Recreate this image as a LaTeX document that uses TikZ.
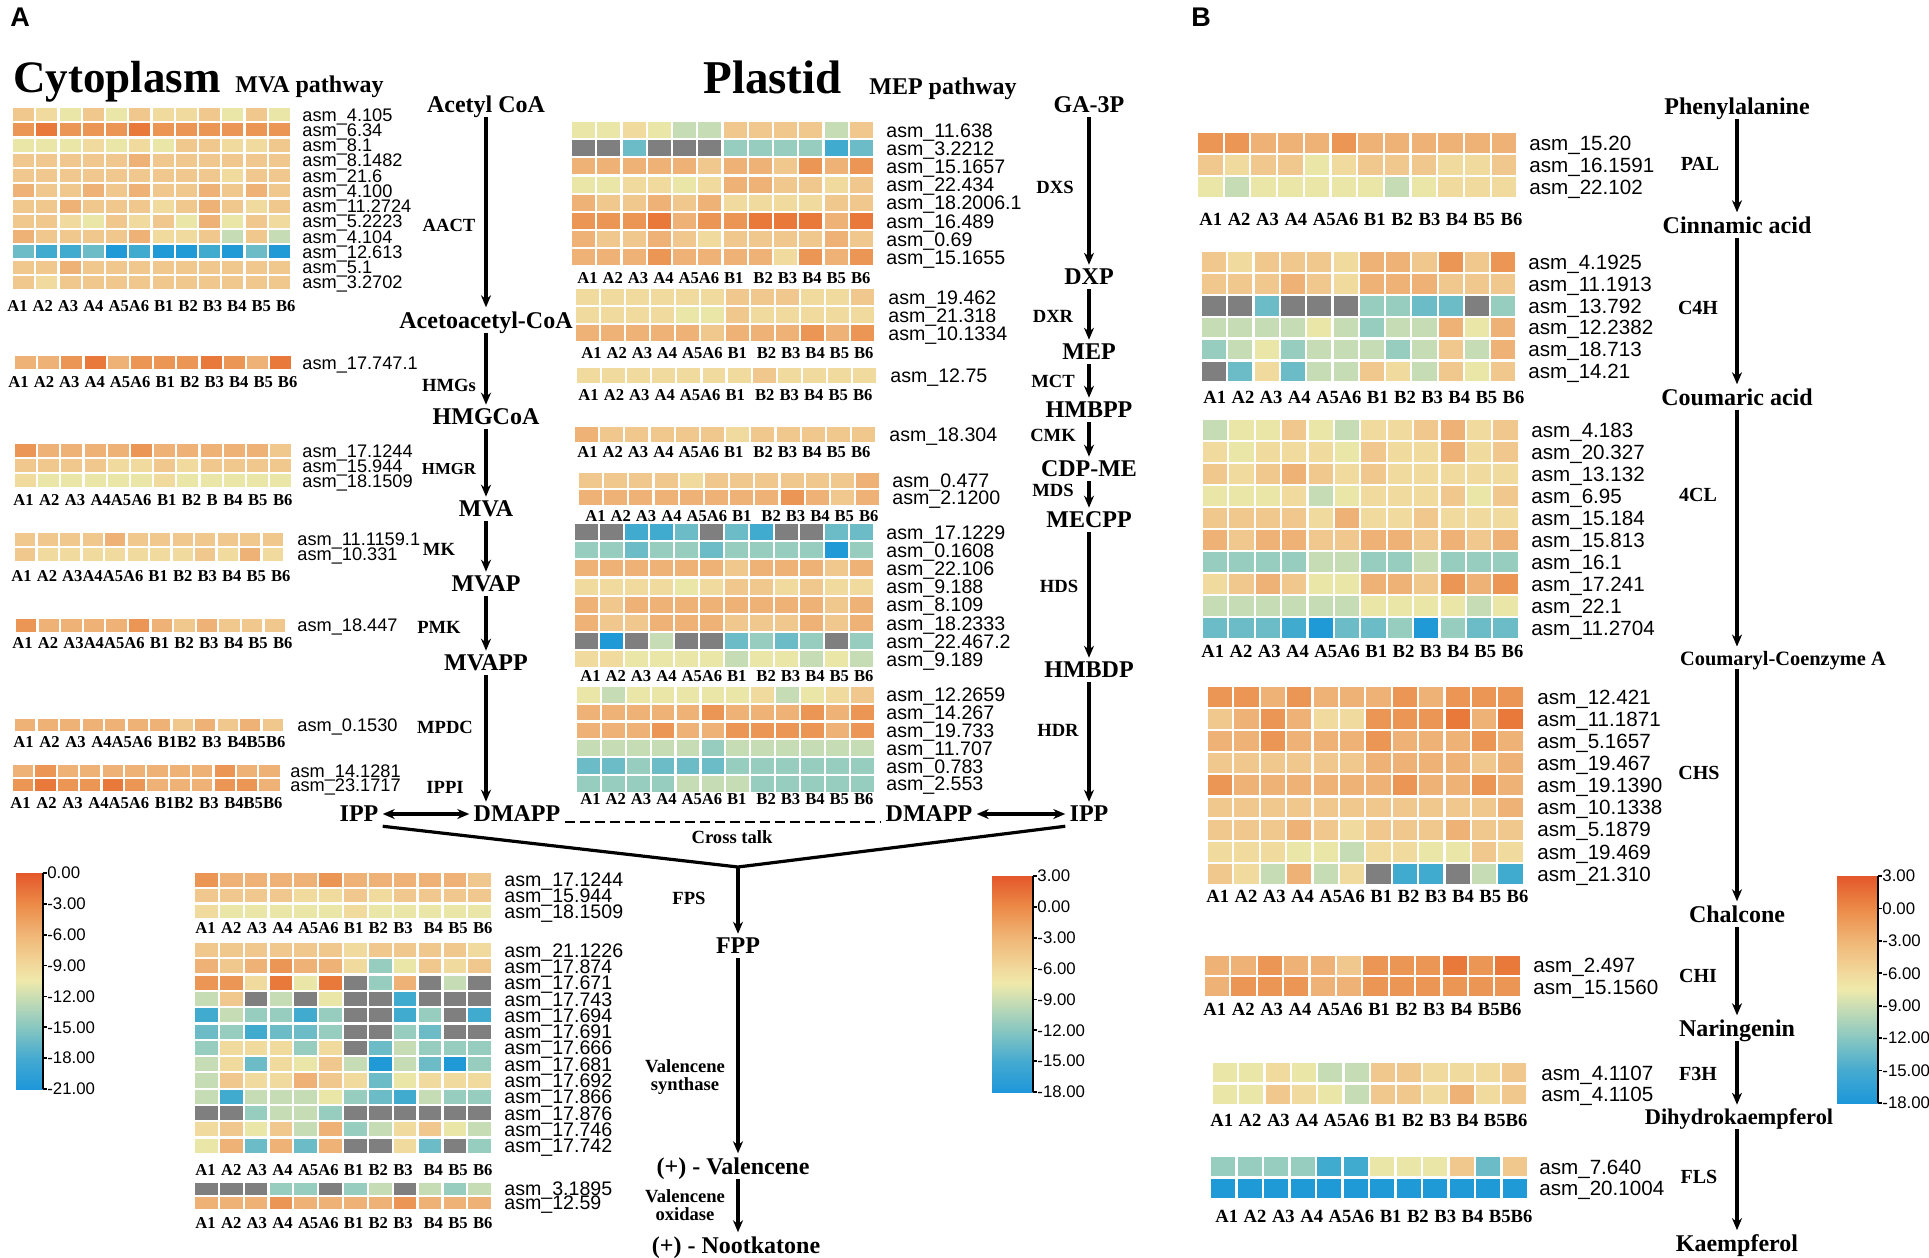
\documentclass[tikz,border=0pt]{standalone}
\usepackage{fontspec}
\setmainfont{Liberation Serif}
\newfontfamily\arial{Liberation Sans}
\usetikzlibrary{arrows.meta,positioning}

\definecolor{hm0}{HTML}{1F9AD7}
\definecolor{hm1}{HTML}{41AACF}
\definecolor{hm2}{HTML}{6BBCC6}
\definecolor{hm3}{HTML}{97CDBF}
\definecolor{hm4}{HTML}{C5DCB4}
\definecolor{hm5}{HTML}{EAE6A8}
\definecolor{hm6}{HTML}{F1DA9D}
\definecolor{hm7}{HTML}{F0C78D}
\definecolor{hm8}{HTML}{EEB176}
\definecolor{hm9}{HTML}{EB9654}
\definecolor{hma}{HTML}{E8793A}
\definecolor{hmb}{HTML}{E4602A}
\definecolor{hmg}{HTML}{7F7F7F}
\definecolor{cbl0}{HTML}{E4572A}
\definecolor{cbl1}{HTML}{EC8A48}
\definecolor{cbl2}{HTML}{F0B676}
\definecolor{cbl3}{HTML}{F1D99C}
\definecolor{cbl4}{HTML}{EEE9AB}
\definecolor{cbl5}{HTML}{CCDEB3}
\definecolor{cbl6}{HTML}{88C7C1}
\definecolor{cbl7}{HTML}{45AAD0}
\definecolor{cbl8}{HTML}{1D97DA}

\pgfdeclareverticalshading{cbar}{100bp}{color(0bp)=(cbl8); color(25bp)=(cbl8);
  color(32.14bp)=(cbl7); color(39.29bp)=(cbl6); color(46.43bp)=(cbl5);
  color(50bp)=(cbl4); color(53.57bp)=(cbl3); color(60.71bp)=(cbl2);
  color(67.86bp)=(cbl1); color(75bp)=(cbl0); color(100bp)=(cbl0)}

\tikzset{
  gene/.style={anchor=base west, inner sep=0pt},
  cols/.style={anchor=west, inner sep=0pt},
  met/.style={font=\bfseries\fontsize{12}{12}\selectfont, inner sep=2pt, text depth=0pt},
  enz/.style={font=\bfseries\fontsize{9.3}{9.3}\selectfont, inner sep=1pt, align=center},
  enzb/.style={font=\bfseries\fontsize{10}{10}\selectfont, inner sep=1pt},
  barlab/.style={font=\arial\fontsize{8.4}{8.4}\selectfont, anchor=west, inner sep=0pt},
  flow/.style={line width=1.6pt, -{Stealth[length=6pt,width=5pt]}},
  dflow/.style={line width=1.6pt, {Stealth[length=6pt,width=5pt]}-{Stealth[length=6pt,width=5pt]}},
  link/.style={line width=1.6pt, line join=round},
  xdash/.style={line width=1.3pt, dash pattern=on 5pt off 2.5pt},
}

% x, y, cell width, cell height, rows of colour codes
\newcommand\heatmap[5]{%
  \foreach \hrow [count=\ri] in {#5}{%
    \foreach \hcell [count=\ci] in \hrow{%
      \fill[fill=hm\hcell] ({#1+(\ci-1)*#3},{#2+(\ri-1)*#4}) rectangle ++({#3-2.2},{#4-2.2});
    }%
  }%
}
% name, x, y, row pitch, font size, gene ids
\newcommand\genes[6]{%
  \foreach \gid [count=\gk] in {#6}{%
    \node[gene, font=\arial\fontsize{#5}{#5}\selectfont] (#1-\gk)
      at ({#2},{#3+(\gk-0.5)*#4-1.1+0.72*#5}) {asm\_\gid};
  }%
}
% name, x, y, width, font size, text
\newcommand\samples[6]{%
  \node[cols, font=\bfseries\fontsize{#5}{#5}\selectfont] (#1) at (#2,#3)
    {\makebox[\dimexpr #4pt/2\relax][s]{#6}};
}
% name, x1, y1, x2, y2, labels
\newcommand\legendbar[6]{%
  \shade[shading=cbar] (#2,#3) rectangle (#4,#5);
  \draw[line width=0.8pt] (#4,#3) -- (#4,#5);
  \foreach \cv [count=\ck from 0] in {#6}{%
    \draw[line width=0.8pt] (#4,{#3+\ck*(#5-#3)/7}) -- ++(4,0);
    \node[barlab] (#1-\ck) at ({#4+4},{#3+\ck*(#5-#3)/7}) {\cv};
  }%
}

\begin{document}
\begin{tikzpicture}[x=0.5pt,y=-0.5pt]
\useasboundingbox (0,0) rectangle (1929,1258);
\fill[white] (0,0) rectangle (1929,1258);

\node[font=\arial\bfseries\fontsize{13.5}{13.5}\selectfont] (panA) at (20,17) {A};
\node[font=\arial\bfseries\fontsize{13.5}{13.5}\selectfont] (panB) at (1201,17) {B};
\node[anchor=base west, inner sep=0pt, font=\bfseries\fontsize{22.5}{22.5}\selectfont] (cyto) at (13,92) {Cytoplasm};
\node[anchor=base west, inner sep=0pt, font=\bfseries\fontsize{12}{12}\selectfont] (mvatitle) at (235,92) {MVA pathway};
\node[anchor=base west, inner sep=0pt, font=\bfseries\fontsize{23.5}{23.5}\selectfont] (plastid) at (703,93) {Plastid};
\node[anchor=base west, inner sep=0pt, font=\bfseries\fontsize{12}{12}\selectfont] (meptitle) at (869,94) {MEP pathway};

% MVA heatmaps
\heatmap{13}{108}{23.25}{15.25}{{7,6,5,7,5,7,6,6,7,5,7,5},{9,a,9,9,9,a,9,9,9,9,9,9},
  {5,5,5,6,5,6,5,7,7,6,6,7},{7,7,7,7,7,8,7,7,7,7,7,7},{7,7,7,7,7,7,7,7,7,6,7,7},
  {8,7,7,8,7,8,7,7,8,7,8,7},{7,7,8,7,7,7,6,7,8,7,6,7},{7,7,6,5,7,6,7,5,8,5,7,6},
  {8,7,7,7,7,8,6,6,7,4,7,4},{2,1,1,2,0,1,0,0,1,0,2,0},{7,7,8,7,7,7,7,7,7,7,7,7},
  {7,6,7,7,7,7,7,7,7,7,7,7}}
\genes{gaact}{302}{108}{15.25}{9.1}{4.105,6.34,8.1,8.1482,21.6,4.100,11.2724,5.2223,4.104,12.613,5.1,3.2702}
\samples{gaact-s}{7}{306}{288}{8.3}{A1 A2 A3 A4 A5A6 B1 B2 B3 B4 B5 B6}

\heatmap{15}{356}{23.2}{15.5}{{8,8,9,a,8,9,9,9,a,9,8,a}}
\genes{ghmgs}{302}{356}{15.5}{9.1}{17.747.1}
\samples{ghmgs-s}{8}{382}{289}{8.3}{A1 A2 A3 A4 A5A6 B1 B2 B3 B4 B5 B6}

\heatmap{15}{444}{23.2}{15.2}{{9,8,8,8,8,9,8,8,8,8,8,7},{7,7,7,7,6,6,7,6,7,7,7,7},{6,5,5,5,5,5,6,5,5,5,5,5}}
\genes{ghmgr}{302}{444}{15.2}{9.1}{17.1244,15.944,18.1509}
\samples{ghmgr-s}{13}{500}{279}{8.3}{A1 A2 A3 A4A5A6 B1 B2 B B4 B5 B6}

\heatmap{15}{533}{22.5}{15}{{7,7,7,7,8,7,7,7,7,7,7,7},{7,6,6,6,6,6,6,6,7,6,8,6}}
\genes{gmk}{297}{533}{15}{9.1}{11.1159.1,10.331}
\samples{gmk-s}{11}{576}{279}{8.3}{A1 A2 A3A4A5A6 B1 B2 B3 B4 B5 B6}

\heatmap{16}{619}{22.6}{15}{{9,8,8,8,8,9,8,7,8,7,7,7}}
\genes{gpmk}{297}{619}{15}{9.1}{18.447}
\samples{gpmk-s}{12}{643}{280}{8.3}{A1 A2 A3A4A5A6 B1 B2 B3 B4 B5 B6}

\heatmap{15}{719}{22.5}{14}{{8,8,8,8,8,8,8,7,8,7,8,7}}
\genes{gmpdc}{297}{719}{14}{9.1}{0.1530}
\samples{gmpdc-s}{13}{742}{272}{8.3}{A1 A2 A3 A4A5A6 B1B2 B3 B4B5B6}

\heatmap{13}{765}{22.4}{14.3}{{8,9,8,8,8,8,8,8,8,9,8,8},{9,a,9,9,a,9,8,8,8,9,9,8}}
\genes{gippi}{290}{765}{14.3}{9.1}{14.1281,23.1717}
\samples{gippi-s}{10}{803}{272}{8.3}{A1 A2 A3 A4A5A6 B1B2 B3 B4B5B6}

% MEP heatmaps
\heatmap{572}{122}{25.25}{18.2}{{5,5,6,5,4,4,7,7,7,7,4,7},{g,g,2,g,g,g,3,3,3,3,1,2},
  {8,8,8,8,8,7,8,8,7,9,8,9},{5,5,6,6,5,6,8,8,7,7,6,7},{8,7,7,8,7,8,6,6,6,6,7,7},
  {9,9,9,a,8,9,9,a,a,a,8,a},{8,7,7,8,7,6,7,7,7,7,8,7},{8,8,8,9,8,8,8,8,6,9,8,9}}
\genes{gdxs}{886}{122}{18.2}{9.8}{11.638,3.2212,15.1657,22.434,18.2006.1,16.489,0.69,15.1655}
\samples{gdxs-s}{577}{278}{293}{8.3}{A1 A2 A3 A4 A5A6 B1~ B2 B3 B4 B5 B6}

\heatmap{576}{289}{25}{18.2}{{6,6,6,6,6,6,7,7,7,6,6,7},{6,6,6,6,5,5,7,6,6,6,6,6},{8,8,8,8,8,7,8,8,8,9,8,9}}
\genes{gdxr}{888}{289}{18.2}{9.8}{19.462,21.318,10.1334}
\samples{gdxr-s}{581}{353}{292}{8.3}{A1 A2 A3 A4 A5A6 B1~ B2 B3 B4 B5 B6}

\heatmap{577}{368}{25.1}{17}{{6,6,6,6,6,6,6,7,6,6,6,6}}
\genes{gmct}{890}{368}{17}{9.8}{12.75}
\samples{gmct-s}{578}{395}{294}{8.3}{A1 A2 A3 A4 A5A6 B1~ B2 B3 B4 B5 B6}

\heatmap{575}{427}{25.2}{17}{{8,7,7,7,7,7,6,7,7,7,7,7}}
\genes{gcmk}{889}{427}{17}{9.8}{18.304}
\samples{gcmk-s}{577}{452}{293}{8.3}{A1 A2 A3 A4 A5A6 B1~ B2 B3 B4 B5 B6}

\heatmap{579}{473}{25.2}{17.3}{{7,7,7,7,6,7,7,7,7,7,7,8},{8,8,8,8,8,8,8,8,9,8,7,8}}
\genes{gmds}{892}{473}{17.3}{9.8}{0.477,2.1200}
\samples{gmds-s}{585}{516}{293}{8.3}{A1 A2 A3 A4 A5A6 B1~ B2 B3 B4 B5 B6}

\heatmap{575}{524}{25}{18.2}{{g,g,1,1,2,g,2,1,g,g,2,2},{3,3,2,3,3,2,3,3,3,3,0,3},
  {8,8,8,8,8,8,7,8,8,8,7,8},{6,6,6,6,5,6,7,7,6,7,6,6},{8,7,8,8,8,8,8,8,8,8,7,8},
  {8,7,7,8,8,8,7,7,7,8,7,8},{g,0,g,4,g,g,2,3,2,3,g,3},{6,6,5,5,5,5,4,5,5,4,5,4}}
\genes{ghds}{886}{524}{18.2}{9.8}{17.1229,0.1608,22.106,9.188,8.109,18.2333,22.467.2,9.189}
\samples{ghds-s}{580}{676}{293}{8.3}{A1 A2 A3 A4 A5A6 B1~ B2 B3 B4 B5 B6}

\heatmap{577}{687}{24.9}{17.8}{{5,4,5,5,5,5,5,6,4,5,6,7},{8,8,8,8,8,9,8,8,8,9,8,9},
  {8,8,8,9,8,8,9,9,9,9,8,9},{4,4,4,4,4,3,4,4,4,4,4,4},{2,2,3,2,2,2,3,3,3,3,3,3},
  {3,3,3,3,4,4,4,3,3,3,3,3}}
\genes{ghdr}{886}{687}{17.8}{9.8}{12.2659,14.267,19.733,11.707,0.783,2.553}
\samples{ghdr-s}{580}{799}{293}{8.3}{A1 A2 A3 A4 A5A6 B1~ B2 B3 B4 B5 B6}

% FPS heatmaps
\heatmap{195}{873}{24.85}{15.8}{{9,8,8,8,8,9,8,8,8,8,8,7},{7,7,7,7,6,6,7,6,7,7,7,7},{6,5,5,5,5,5,6,5,5,5,5,5}}
\genes{gfps}{504}{873}{15.8}{9.8}{17.1244,15.944,18.1509}
\samples{gfps-s}{195}{928}{297}{8.3}{A1 A2 A3 A4 A5A6 B1 B2 B3~ B4 B5 B6}

\heatmap{195}{943}{24.85}{16.3}{{7,7,7,7,7,7,6,7,7,7,7,6},{8,7,8,9,8,8,6,3,5,7,6,7},
  {9,9,6,a,5,a,g,3,8,g,4,g},{4,7,g,4,g,5,g,g,1,g,g,g},{1,4,3,3,1,3,g,g,1,3,g,1},
  {2,3,1,2,2,3,g,g,3,2,g,g},{3,6,6,6,3,6,g,2,4,3,3,3},{4,6,2,6,5,7,4,0,4,2,0,3},
  {4,7,6,6,8,7,6,2,5,6,6,6},{4,1,4,4,4,5,3,2,1,4,3,3},{g,g,3,4,4,3,g,g,g,g,g,g},
  {6,7,5,7,4,8,3,4,6,7,5,4},{5,8,2,8,2,8,g,g,6,2,g,3}}
\genes{gvs}{504}{943}{16.3}{9.8}{21.1226,17.874,17.671,17.743,17.694,17.691,17.666,17.681,17.692,17.866,17.876,17.746,17.742}
\samples{gvs-s}{195}{1170}{297}{8.3}{A1 A2 A3 A4 A5A6 B1 B2 B3~ B4 B5 B6}

\heatmap{195}{1183}{24.85}{14}{{g,g,g,3,3,g,3,4,g,4,3,4},{8,8,8,9,8,8,8,8,9,8,8,8}}
\genes{gvo}{504}{1183}{14}{9.8}{3.1895,12.59}
\samples{gvo-s}{195}{1223}{297}{8.3}{A1 A2 A3 A4 A5A6 B1 B2 B3~ B4 B5 B6}

% flavonoid heatmaps
\heatmap{1198}{133}{26.7}{22}{{9,9,8,8,8,9,8,8,8,8,8,8},{7,6,7,7,5,6,7,7,7,6,6,7},{5,4,5,5,5,5,5,4,5,6,6,6}}
\genes{gpal}{1529}{133}{22}{10.3}{15.20,16.1591,22.102}
\samples{gpal-s}{1199}{219}{323}{9.3}{A1 A2 A3 A4 A5A6 B1 B2 B3 B4 B5 B6}

\heatmap{1202}{252}{26.3}{21.9}{{7,6,7,7,7,6,8,8,7,9,7,9},{7,7,7,8,7,6,8,8,8,7,7,7},
  {g,g,2,g,g,g,3,3,2,2,g,3},{4,4,4,4,5,4,3,4,4,8,5,8},{3,4,5,3,4,4,4,3,4,7,4,8},
  {g,2,6,2,4,4,7,6,4,7,5,7}}
\genes{gc4h}{1528}{252}{21.9}{10.3}{4.1925,11.1913,13.792,12.2382,18.713,14.21}
\samples{gc4h-s}{1203}{397}{321}{9.3}{A1 A2 A3 A4 A5A6 B1 B2 B3 B4 B5 B6}

\heatmap{1203}{420}{26.4}{22}{{4,5,5,7,5,4,6,6,7,8,6,7},{6,5,6,6,6,5,7,6,6,8,6,7},
  {7,6,7,8,7,6,7,6,6,6,6,6},{5,5,5,6,4,5,6,6,6,7,5,7},{7,7,7,7,6,8,6,6,7,6,6,6},
  {8,7,8,8,7,7,8,8,7,8,7,8},{3,3,3,3,4,4,3,3,4,3,3,3},{6,7,8,7,5,5,8,8,7,9,8,9},
  {4,4,4,4,4,4,5,5,5,5,4,5},{2,2,2,1,0,2,2,3,0,3,2,2}}
\genes{gfourcl}{1531}{420}{22}{10.3}{4.183,20.327,13.132,6.95,15.184,15.813,16.1,17.241,22.1,11.2704}
\samples{gfourcl-s}{1201}{651}{322}{9.3}{A1 A2 A3 A4 A5A6 B1 B2 B3 B4 B5 B6}

\heatmap{1208}{687}{26.4}{22.1}{{9,9,8,9,8,8,8,9,8,9,9,9},{7,8,9,8,6,6,9,9,9,a,8,a},
  {8,8,9,8,8,8,9,8,8,8,9,8},{7,7,7,7,7,7,8,8,8,8,7,8},{9,8,8,8,8,8,8,9,8,8,9,8},
  {7,7,7,7,7,7,7,7,7,7,7,8},{7,7,7,8,7,6,7,7,7,8,7,7},{6,6,6,5,5,4,6,6,5,5,7,6},
  {7,6,4,8,4,6,g,1,1,g,4,1}}
\genes{gchs}{1537}{687}{22.1}{10.3}{12.421,11.1871,5.1657,19.467,19.1390,10.1338,5.1879,19.469,21.310}
\samples{gchs-s}{1206}{896}{322}{9.3}{A1 A2 A3 A4 A5A6 B1 B2 B3 B4 B5 B6}

\heatmap{1205}{956}{26.4}{21.3}{{8,8,9,8,8,7,9,9,9,a,9,a},{8,9,9,9,8,8,9,9,9,9,9,9}}
\genes{gchi}{1533}{956}{21.3}{10.3}{2.497,15.1560}
\samples{gchi-s}{1203}{1009}{318}{9.3}{A1 A2 A3 A4 A5A6 B1 B2 B3 B4 B5B6}

\heatmap{1213}{1063}{26.3}{21.6}{{5,5,6,5,4,4,7,7,6,6,6,7},{5,5,7,6,5,4,7,7,6,8,6,7}}
\genes{gf3h}{1541}{1063}{21.6}{10.3}{4.1107,4.1105}
\samples{gf3h-s}{1210}{1120}{317}{9.3}{A1 A2 A3 A4 A5A6 B1 B2 B3 B4 B5B6}

\heatmap{1211}{1157}{26.5}{21.6}{{3,3,3,3,1,1,5,5,5,7,2,7},{0,0,0,0,0,0,0,0,0,0,0,0}}
\genes{gfls}{1539}{1157}{21.6}{10.3}{7.640,20.1004}
\samples{gfls-s}{1215}{1216}{317}{9.3}{A1 A2 A3 A4 A5A6 B1 B2 B3 B4 B5B6}

% colour scales
\legendbar{cba}{16}{873}{43}{1089}{0.00,-3.00,-6.00,-9.00,-12.00,-15.00,-18.00,-21.00}
\legendbar{cbb}{992}{876}{1033}{1092}{3.00,0.00,-3.00,-6.00,-9.00,-12.00,-15.00,-18.00}
\legendbar{cbc}{1837}{876}{1878}{1103}{3.00,0.00,-3.00,-6.00,-9.00,-12.00,-15.00,-18.00}

% MVA pathway
\node[met] (acetyl) at (486,104) {Acetyl CoA};
\node[met] (acetoacetyl) at (486,320) {Acetoacetyl-CoA};
\node[met] (hmgcoa) at (486,417) {HMGCoA};
\node[met] (mva) at (486,509) {MVA};
\node[met] (mvap) at (486,584) {MVAP};
\node[met] (mvapp) at (486,663) {MVAPP};
\node[met] (ippL) at (359,814) {IPP};
\node[met] (dmappL) at (517,814) {DMAPP};
\node[enz] (aact) at (449,225) {AACT};
\node[enz] (hmgs) at (449,385) {HMGs};
\node[enz, font=\bfseries\fontsize{8.4}{8.4}\selectfont] (hmgr) at (449,469) {HMGR};
\node[enz] (mk) at (439,549) {MK};
\node[enz] (pmk) at (439,627) {PMK};
\node[enz] (mpdc) at (445,727) {MPDC};
\node[enz] (ippi) at (445,787) {IPPI};
\draw[flow] (acetyl) -- (acetoacetyl);
\draw[flow] (acetoacetyl) -- (hmgcoa);
\draw[flow] (hmgcoa) -- (mva);
\draw[flow] (mva) -- (mvap);
\draw[flow] (mvap) -- (mvapp);
\draw[flow] (mvapp) -- (mvapp |- dmappL.north);
\draw[dflow] (ippL) -- (dmappL);

% MEP pathway
\node[met] (ga3p) at (1089,105) {GA-3P};
\node[met] (dxp) at (1089,277) {DXP};
\node[met] (mep) at (1089,352) {MEP};
\node[met] (hmbpp) at (1089,410) {HMBPP};
\node[met] (cdpme) at (1089,469) {CDP-ME};
\node[met] (mecpp) at (1089,520) {MECPP};
\node[met] (hmbdp) at (1089,670) {HMBDP};
\node[met] (ippR) at (1089,814) {IPP};
\node[met] (dmappR) at (929,814) {DMAPP};
\node[enz] (dxs) at (1055,187) {DXS};
\node[enz] (dxr) at (1053,316) {DXR};
\node[enz] (mct) at (1053,381) {MCT};
\node[enz] (cmk) at (1053,435) {CMK};
\node[enz] (mds) at (1053,490) {MDS};
\node[enz] (hds) at (1059,586) {HDS};
\node[enz] (hdr) at (1058,730) {HDR};
\draw[flow] (ga3p) -- (dxp);
\draw[flow] (dxp) -- (mep);
\draw[flow] (mep) -- (hmbpp);
\draw[flow] (hmbpp) -- (cdpme);
\draw[flow] (cdpme) -- (mecpp);
\draw[flow] (mecpp) -- (hmbdp);
\draw[flow] (hmbdp) -- (ippR);
\draw[dflow] (dmappR) -- (ippR);
\draw[xdash] (dmappL.base east) -- (dmappR.base west);
\node[enz] (xtalk) at (732,837) {Cross talk};

% FPP branch
\coordinate (merge) at (738,867);
\node[met] (fpp) at (738,946) {FPP};
\node[met] (valencene) at (733,1166) {(+) - Valencene};
\node[met] (nootkatone) at (736,1245) {(+) - Nootkatone};
\node[enz] (fps) at (689,898) {FPS};
\node[enz] (vs) at (685,1077) {Valencene\\synthase};
\node[enz] (vo) at (685,1205) {Valencene\\oxidase};
\draw[link] (ippL.south east) -- (merge) -- (ippR.south west);
\draw[flow] (merge) -- (fpp);
\draw[flow] (fpp) -- (fpp |- valencene.north);
\draw[flow] (fpp |- valencene.south) -- (fpp |- nootkatone.north);

% flavonoid pathway
\node[met] (phe) at (1737,106) {Phenylalanine};
\node[met] (cin) at (1737,225) {Cinnamic acid};
\node[met] (cou) at (1737,397) {Coumaric acid};
\node[met, font=\bfseries\fontsize{10.2}{10.2}\selectfont] (coa) at (1783,658) {Coumaryl-Coenzyme A};
\node[met] (chal) at (1737,914) {Chalcone};
\node[met] (nar) at (1737,1028) {Naringenin};
\node[met, font=\bfseries\fontsize{11.2}{11.2}\selectfont] (dhk) at (1739,1117) {Dihydrokaempferol};
\node[met] (kae) at (1737,1243) {Kaempferol};
\node[enzb] (pal) at (1700,164) {PAL};
\node[enzb] (c4h) at (1698,308) {C4H};
\node[enzb] (fourcl) at (1698,495) {4CL};
\node[enzb] (chs) at (1699,773) {CHS};
\node[enzb] (chi) at (1698,976) {CHI};
\node[enzb] (f3h) at (1698,1074) {F3H};
\node[enzb] (fls) at (1699,1177) {FLS};
\draw[flow] (phe) -- (cin);
\draw[flow] (cin) -- (cou);
\draw[flow] (cou) -- (cou |- coa.north);
\draw[flow] (cou |- coa.south) -- (chal);
\draw[flow] (chal) -- (nar);
\draw[flow] (nar) -- (cou |- dhk.north);
\draw[flow] (cou |- dhk.south) -- (kae);
\end{tikzpicture}
\end{document}
